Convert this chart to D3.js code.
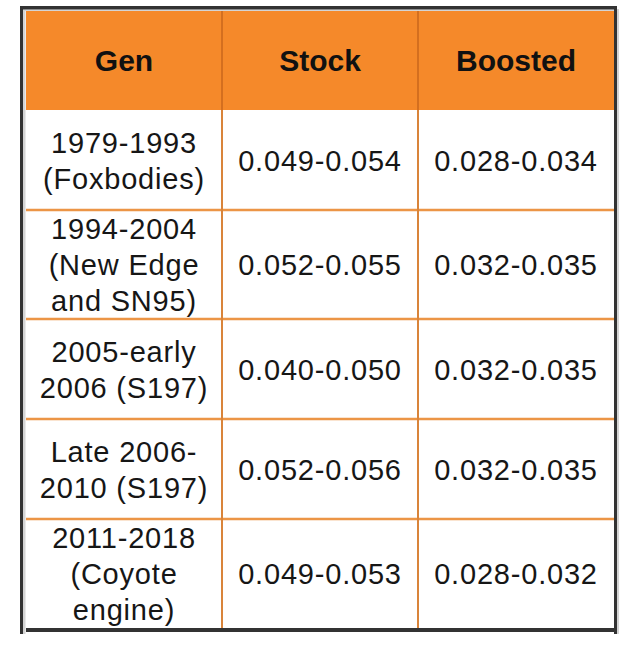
<!DOCTYPE html>
<html>
<head>
<meta charset="utf-8">
<script src="https://cdn.jsdelivr.net/npm/d3@7"></script>
<style>
  html, body { margin: 0; padding: 0; background: #fff; }
  svg { display: block; }
</style>
</head>
<body>
<div id="table"></div>
<script>
// Table content
const headers = ["Gen", "Stock", "Boosted"];
const gens = [
    ["1979-1993", "(Foxbodies)"],
    ["1994-2004", "(New Edge", "and SN95)"],
    ["2005-early", "2006 (S197)"],
    ["Late 2006-", "2010 (S197)"],
    ["2011-2018", "(Coyote", "engine)"]
];
const stock = ["0.049-0.054", "0.052-0.055", "0.040-0.050", "0.052-0.056", "0.049-0.053"];
const boosted = ["0.028-0.034", "0.032-0.035", "0.032-0.035", "0.032-0.035", "0.028-0.032"];

const W = 631, H = 652;
const tLeft = 26, tRight = 614, tTop = 11, headH = 99;
const lineH = 36;

const svg = d3.select("#table")
    .append("svg")
    .attr("width", W)
    .attr("height", H);

// columns
const x = d3.scaleBand()
    .domain(headers)
    .range([tLeft, tRight]);

// row heights depend on how many lines the Gen cell has
const rowH = gens.map(g => g.length == 3 ? 109 : 100);
const rowY = [tTop + headH];
rowH.forEach((h, i) => rowY.push(rowY[i] + h));
const tBottom = rowY[rowY.length - 1];

const rows = gens.map((g, i) => ({ cells: [g, [stock[i]], [boosted[i]]], y: rowY[i], h: rowH[i] }));

// header
svg.append("rect")
    .attr("x", tLeft).attr("y", tTop)
    .attr("width", tRight - tLeft).attr("height", headH)
    .attr("fill", "#f5892a");

svg.append("g")
    .selectAll("text")
    .data(headers)
    .join("text")
        .attr("x", d => x(d) + x.bandwidth() / 2)
        .attr("y", tTop + headH / 2 + 10.5)
        .attr("text-anchor", "middle")
        .attr("font-family", "'Liberation Sans', Arial, sans-serif")
        .attr("font-weight", "bold")
        .attr("font-size", "30px")
        .attr("fill", "#111")
        .text(d => d);

// header dividers
svg.append("g")
    .selectAll("line")
    .data(headers.slice(1))
    .join("line")
        .attr("x1", d => x(d)).attr("x2", d => x(d))
        .attr("y1", tTop).attr("y2", tTop + headH)
        .attr("stroke", "#c9671c")
        .attr("stroke-width", 1.5);

// body horizontal lines
svg.append("g")
    .selectAll("line")
    .data(rowY.slice(1, -1))
    .join("line")
        .attr("x1", tLeft).attr("x2", tRight)
        .attr("y1", d => d).attr("y2", d => d)
        .attr("stroke", "#ec9546")
        .attr("stroke-width", 2.5);

// body vertical lines
svg.append("g")
    .selectAll("line")
    .data(headers.slice(1))
    .join("line")
        .attr("x1", d => x(d)).attr("x2", d => x(d))
        .attr("y1", tTop + headH).attr("y2", tBottom)
        .attr("stroke", "#d9843a")
        .attr("stroke-width", 2);

// body text
const rowG = svg.append("g")
    .selectAll("g")
    .data(rows)
    .join("g");

rowG.selectAll("text")
    .data(r => r.cells.map((lines, j) => ({ lines, j, y: r.y, h: r.h })))
    .join("text")
        .attr("text-anchor", "middle")
        .attr("font-family", "'Liberation Sans', Arial, sans-serif")
        .attr("font-size", "29px")
        .attr("letter-spacing", "0.8px")
        .attr("fill", "#161616")
        .each(function(d) {
            const cx = x(headers[d.j]) + x.bandwidth() / 2;
            const mid = d.y + d.h / 2 + 10.5;
            const first = mid - (d.lines.length - 1) * lineH / 2;
            d3.select(this).selectAll("tspan")
                .data(d.lines)
                .join("tspan")
                    .attr("x", cx)
                    .attr("y", (l, k) => first + k * lineH)
                    .text(l => l);
        });

// outer frame: dark edge with a light inner bevel
const frame = svg.append("g");
frame.append("rect").attr("x", 23).attr("y", 9.5).attr("width", 2.5).attr("height", 634 - 9.5).attr("fill", "#d4d4d4");
frame.append("rect").attr("x", 23).attr("y", 9.5).attr("width", tRight - 23).attr("height", 1.5).attr("fill", "#d4d4d4");
frame.append("rect").attr("x", 617).attr("y", 9).attr("width", 2).attr("height", 634 - 9).attr("fill", "#d4d4d4");
frame.append("rect").attr("x", 20).attr("y", 6).attr("width", 3).attr("height", 628).attr("fill", "#333");
frame.append("rect").attr("x", 20).attr("y", 6).attr("width", 597).attr("height", 3.5).attr("fill", "#333");
frame.append("rect").attr("x", tRight).attr("y", 6).attr("width", 3).attr("height", 628).attr("fill", "#333");
frame.append("rect").attr("x", tLeft).attr("y", tBottom).attr("width", tRight - tLeft).attr("height", 4).attr("fill", "#333");
</script>
</body>
</html>
